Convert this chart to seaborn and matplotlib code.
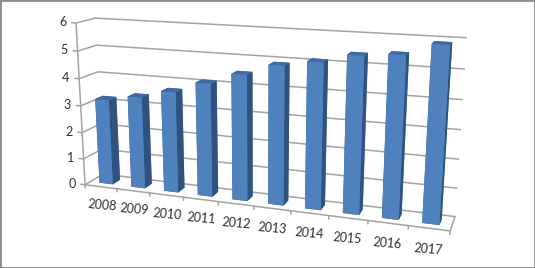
import numpy as np
import matplotlib
matplotlib.use("Agg")
import matplotlib.pyplot as plt
from matplotlib.patches import Rectangle
from mpl_toolkits.mplot3d import proj3d
import seaborn as sns

years = ["2008","2009","2010","2011","2012","2013","2014","2015","2016","2017"]
values = [3.2,3.4,3.7,4.1,4.5,4.9,5.1,5.4,5.5,5.9]
z_ticks = [0,1,2,3,4,5,6]

sns.set_theme(style="white")
plt.rcParams['font.family'] = ['Lato', 'DejaVu Sans']
GRID = "#a3a3a3"; TXT = "#303030"
FRONT, TOP, SIDE = "#4f81bd", "#3d6aa3", "#2f5380"

S = 700
fig = plt.figure(figsize=(5.35, 2.68), dpi=100)
ax = fig.add_axes([(267.5-16.57-S/2)/535, (141.4-S/2)/268, S/535, S/268],
                  projection="3d", computed_zorder=False)
ax.patch.set_alpha(0)
ax.set_proj_type("persp", focal_length=0.22)
ax.view_init(elev=14.671, azim=-70.605, roll=-0.03)
ax.set_box_aspect((10, 0.99, 4.523), zoom=0.593)
n = len(years)
ax.set_xlim(0, n); ax.set_ylim(0, 1); ax.set_zlim(0, 6)
ax.set_axis_off()

def label(x, y, z, s, **kwargs):
    px, py, _ = proj3d.proj_transform(x, y, z, ax.get_proj())
    ax.text2D(px, py, s, transform=ax.transData, color=TXT, fontsize=9,
              va="center", **kwargs)

kw = dict(color=GRID, lw=1.1, zorder=1)
for z in z_ticks:
    ax.plot([0, n], [1, 1], [z, z], **kw)
    ax.plot([0, 0], [0, 1], [z, z], **kw)
    ax.plot([-0.14, 0], [0, 0], [z, z], **kw)
    label(-0.3, 0, z, str(z), ha="right")
ax.plot([0, 0], [0, 0], [0, 6], **kw)
ax.plot([0, n], [0, 0], [0, 0], **kw)
ax.plot([n, n], [0, 1], [0, 0], **kw)
for i in range(n + 1):
    ax.plot([i, i], [0, 0], [0, -0.12], **kw)
for i, y in enumerate(years):
    label(i + 0.5, 0, -0.72, y, ha="center", rotation=-5)

w, d = 0.42, 0.42
xs = np.arange(n) + 0.5 - w / 2
faces = [TOP, TOP, FRONT, FRONT, SIDE, SIDE] * n  # bottom, top, -y, +y, -x, +x
ax.bar3d(xs, np.full(n, 0.5 - d / 2), np.zeros(n), w, d, values,
         color=faces, shade=False, edgecolor="none", zorder=3)

fig.add_artist(Rectangle((0, 0), 1, 1, transform=fig.transFigure, fill=False,
                         ec="#8c8c8c", lw=2))
fig.savefig("out.png", dpi=100)
